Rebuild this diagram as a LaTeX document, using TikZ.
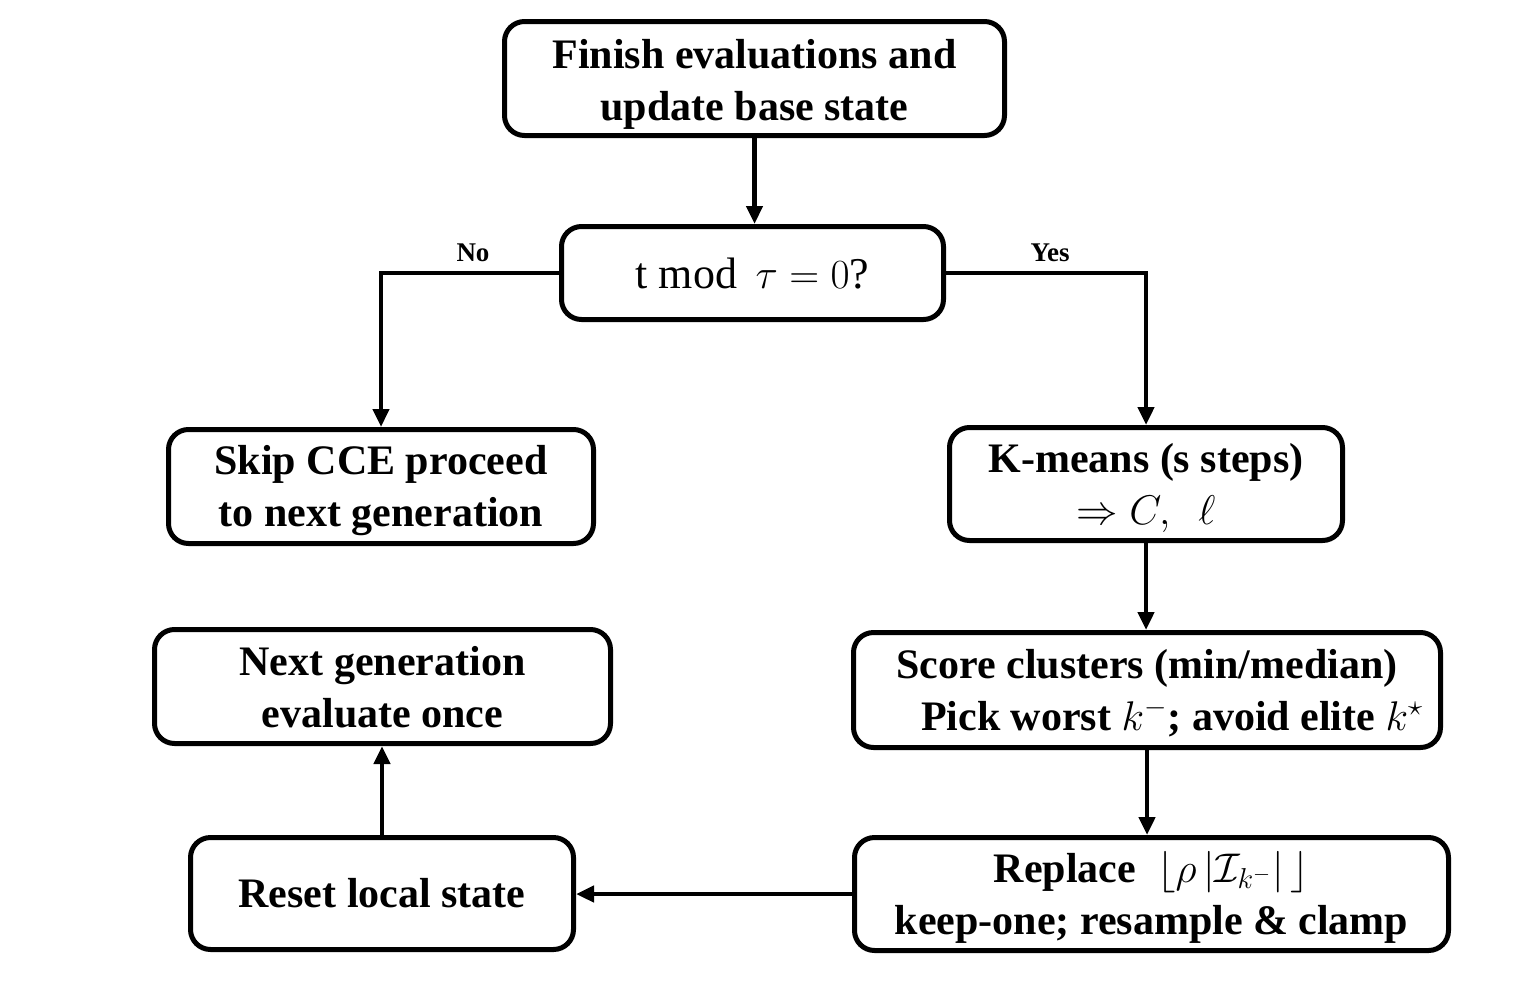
\documentclass[tikz,border=0pt]{standalone}
\usepackage{fontspec}
\setmainfont{Liberation Serif}
\usetikzlibrary{arrows.meta}
\begin{document}
\begin{tikzpicture}[x=0.5pt,y=-0.5pt,
  box/.style={draw, line width=2.5pt, rounded corners=10pt, inner sep=0pt},
  txt/.style={align=center, inner sep=0pt,
    font=\fontsize{21}{26}\selectfont\bfseries},
  arr/.style={line width=2.3pt, -{Triangle[length=9pt,width=8pt]}},
  lbl/.style={font=\fontsize{13.5}{16}\selectfont\bfseries, inner sep=0pt}]
\useasboundingbox (0,0) rectangle (1539,1008);
% boxes
\node[box, minimum width=250pt, minimum height=57pt] (b1) at (754.5,78.5) {};
\node[box, minimum width=191pt, minimum height=46.5pt] (b2) at (752.5,273) {};
\node[box, minimum width=212.5pt, minimum height=57pt] (b3) at (381,486.5) {};
\node[box, minimum width=196.5pt, minimum height=56.5pt] (b4) at (1146,484) {};
\node[box, minimum width=293.5pt, minimum height=57.5pt] (b5) at (1147,690) {};
\node[box, minimum width=228pt, minimum height=57pt] (b6) at (382.5,686.5) {};
\node[box, minimum width=191.5pt, minimum height=56pt] (b7) at (382,893.5) {};
\node[box, minimum width=297pt, minimum height=56.5pt] (b8) at (1151.5,894) {};
% texts
\node[txt] (t1) at (754.5,84.5) {Finish evaluations and\\update base state};
\node[txt, font=\fontsize{22}{26}\selectfont] (t2) at (752.5,274) {t mod \,$\tau = 0$?};
\node[txt] (t3) at (381,491) {Skip CCE proceed\\to next generation};
\node[txt] (t4) at (1146,488) {K-means (s steps)\\$\Rightarrow C,\ \ \ell$};
\node[txt] (t5) at (1147,693) {Score clusters (min/median)\\\hspace*{1.2em}Pick worst $k^{-}$; avoid elite $k^{\star}$};
\node[txt] (t6) at (382.5,687) {Next generation\\evaluate once};
\node[txt] (t7) at (382,893.5) {Reset local state};
\node[txt] (t8) at (1151.5,897) {Replace \ $\lfloor \rho\,|\mathcal{I}_{k^{-}}|\,\rfloor$\\keep-one; resample \& clamp};
\node[lbl] (no) at (473,253) {No};
\node[lbl] (yes) at (1050,253) {Yes};
% connectors
\draw[arr] (b1.south) -- (b1.south |- b2.north);
\draw[arr] (b2.west) -| (b3.north);
\draw[arr] (b2.east) -| (b4.north);
\draw[arr] (b4.south) -- (b4.south |- b5.north);
\draw[arr] (b5.south) -- (b5.south |- b8.north);
\draw[arr] (b8.west) -- (b8.west -| b7.east);
\draw[arr] (b7.north) -- (b7.north |- b6.south);
\end{tikzpicture}
\end{document}
